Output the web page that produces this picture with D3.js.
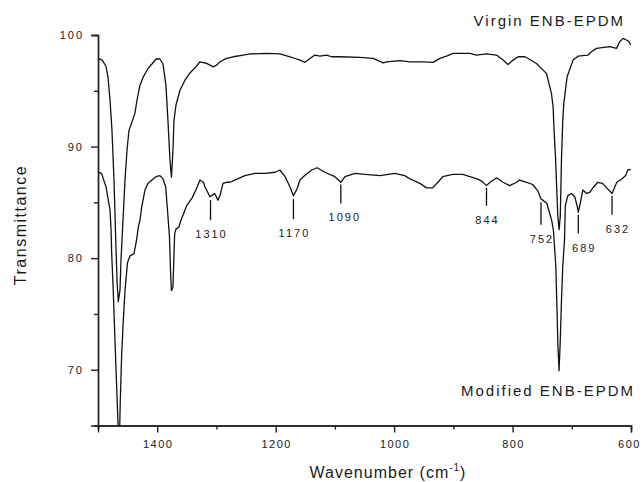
<!DOCTYPE html>
<html>
<head>
<meta charset="utf-8">
<script src="https://cdn.jsdelivr.net/npm/d3@7/dist/d3.min.js"></script>
<style>
  body { margin: 0; background: #fff; }
  svg text { font-family: Arial, "Liberation Sans", sans-serif; fill: #1a1a1a; }
</style>
</head>
<body>
<div id="chart"></div>
<script>
// spectra (wavenumber in cm-1, transmittance)
const virginWn = [1500, 1493, 1486.5, 1483, 1479.7, 1476.4, 1473, 1470.5, 1467.9, 1465.7, 1462.9, 1461.2, 1457.8, 1454.4, 1451, 1447.7, 1442.6, 1437.6, 1434.2, 1429.1, 1424, 1415.6, 1408.9, 1402.1, 1395.4, 1390.3, 1385.3, 1381.9, 1378.5, 1376, 1373.4, 1371.7, 1368.4, 1361.6, 1353.2, 1344.7, 1336.3, 1327.8, 1316.5, 1305.4, 1299.7, 1294.1, 1282.8, 1271.6, 1254.8, 1243.5, 1215.3, 1192.8, 1175.9, 1159.1, 1150.6, 1142.2, 1133.7, 1125.3, 1114, 1105.6, 1091.6, 1057.8, 1035.4, 1018.5, 1012.7, 990.3, 973.4, 951, 934, 922.8, 911.5, 900.3, 872.1, 860.8, 844, 827.1, 815.9, 807.5, 799, 790.6, 779.3, 770.9, 759.6, 748.4, 742.7, 737.1, 734.3, 731.5, 729.9, 727.5, 725.3, 723.6, 721.4, 719.4, 717.4, 715.2, 713.5, 707.9, 697.8, 689.3, 672.5, 666.7, 658.3, 635.8, 624.6, 619, 613.4, 607.7, 603.3, 600.5];
const virginT = [97.9, 97.75, 97.2, 96.15, 94.15, 91.45, 87, 82.5, 78, 76.1, 77.1, 79.8, 83.4, 87, 89.7, 91.45, 92.2, 93, 94.15, 95.5, 96.2, 97, 97.4, 97.85, 97.85, 97.4, 95.5, 92.35, 88.8, 87.25, 89.7, 92.35, 93.7, 95.05, 95.95, 96.6, 97.05, 97.6, 97.45, 97.15, 97.3, 97.6, 97.9, 98.05, 98.2, 98.3, 98.35, 98.3, 98.05, 97.75, 97.55, 97.9, 98.2, 98.1, 98.2, 98.05, 98.05, 98, 97.9, 97.5, 97.6, 97.7, 97.6, 97.6, 97.55, 97.9, 98.1, 98.35, 98.35, 98.2, 98.3, 98.2, 97.75, 97.35, 97.75, 98.05, 98.05, 97.8, 97.45, 96.85, 96.55, 95.35, 94.75, 93.55, 91.45, 89.05, 86.05, 83.8, 82.55, 83.8, 88.8, 92.35, 93.85, 96.25, 97.75, 98.1, 98.2, 98.5, 98.8, 98.95, 98.8, 99.4, 99.7, 99.55, 99.4, 99.1];

const modifiedWn = [1500, 1494, 1491, 1486.5, 1482.6, 1479.7, 1478, 1476.9, 1474.7, 1472.5, 1470.1, 1467.4, 1465.5, 1463.4, 1462.4, 1460, 1457.3, 1454.4, 1450.2, 1446, 1439.2, 1435, 1431.6, 1429.1, 1426.2, 1420.7, 1415.6, 1408.9, 1402.1, 1395.4, 1390.3, 1385.7, 1383.5, 1381, 1379.3, 1377.6, 1376, 1373.4, 1371.7, 1370.5, 1368.4, 1363.3, 1359.9, 1350.3, 1341, 1334, 1327.8, 1322, 1319.4, 1311, 1308, 1303, 1297.5, 1294, 1289, 1283, 1277, 1269, 1252, 1235, 1218, 1201, 1193, 1184, 1176, 1170, 1164, 1159, 1151, 1139, 1130, 1117, 1100, 1090, 1083, 1066, 1049, 1024, 999, 982, 973, 956.5, 945, 935, 926, 918, 901, 884, 872, 860, 852, 844, 838, 827, 816, 805, 793, 788, 776, 766, 757, 752, 749, 742, 734, 731, 727, 725, 723.5, 721.5, 719.5, 717.4, 715.2, 712.3, 710.9, 706.7, 700.5, 695, 691, 689, 685, 681.4, 674.7, 669.6, 662.8, 656, 648, 641, 632, 624, 615.6, 609, 605.5, 600.5];
const modifiedT = [87.7, 87.6, 87.1, 86.4, 85.2, 84.3, 82.6, 80.4, 77.7, 74.4, 70.8, 66.9, 64.2, 64.6, 67.2, 71.4, 74.4, 77.1, 79.6, 80.2, 80.4, 81.6, 82.9, 83.4, 84.6, 86.1, 86.7, 87, 87.3, 87.4, 87.1, 86.4, 84.9, 83.1, 81.9, 78.9, 77.1, 77.4, 80.4, 82.2, 82.6, 82.8, 83.4, 84.7, 85.4, 86.2, 87, 86.8, 86.4, 85.5, 85.6, 85.8, 85.2, 85.6, 86.7, 86.8, 86.8, 87, 87.4, 87.6, 87.6, 87.7, 87.9, 87.3, 86.4, 85.6, 86.2, 87, 87.4, 87.9, 88.1, 87.7, 87.3, 86.8, 87.3, 87.6, 87.5, 87.4, 87.6, 87.4, 87.1, 86.7, 86.3, 86.3, 86.8, 87.3, 87.5, 87.5, 87.3, 87.1, 86.9, 86.5, 86.8, 87.2, 86.8, 86.5, 86.8, 87, 86.8, 86.6, 86, 85.3, 85.2, 84.9, 83.4, 82.5, 79.3, 75.5, 72.3, 69.9, 72.5, 76.2, 79.3, 81.6, 84.7, 85.6, 85.8, 85.5, 84.7, 84.1, 85.1, 86.1, 85.8, 85.9, 86.4, 86.8, 86.7, 86.3, 85.8, 86.8, 87.1, 87.4, 87.9, 87.95];

// peak markers on the modified spectrum
const peakWn = [1310, 1170, 1090, 844, 752, 689, 632];
const peakLabels = ["1310", "1170", "1090", "844", "752", "689", "632"];
const peakTop = [85.2, 85.3, 86.6, 86.3, 85.0, 83.9, 85.6];
const peakEnd = [83.4, 83.5, 84.9, 84.7, 83.0, 82.2, 83.9];

const xTicks = [1400, 1200, 1000, 800, 600];
const xMinor = [1500, 1300, 1100, 900, 700];
const yTicks = [100, 90, 80, 70];
const yMinor = [95, 85, 75, 65];

const seriesNames = ["Virgin ENB-EPDM", "Modified ENB-EPDM"];

// dimensioner
const margin = { top: 35, right: 11, bottom: 56.5, left: 98 },
  width = 642 - margin.left - margin.right,
  height = 482 - margin.top - margin.bottom;

const svg = d3.select("#chart")
  .append("svg")
  .attr("width", 642)
  .attr("height", 482);

const g = svg.append("g")
  .attr("transform", "translate(" + margin.left + "," + margin.top + ")");

const x = d3.scaleLinear().domain([1500, 600]).range([0, width]);
const y = d3.scaleLinear().domain([65, 100]).range([height, 0]);

// akser
function styleAxis(sel) {
  sel.select(".domain").attr("stroke", "#222").attr("stroke-width", 1.4);
  sel.selectAll(".tick line").attr("stroke", "#222").attr("stroke-width", 1.4);
  sel.selectAll("text")
    .attr("font-size", 11)
    .attr("letter-spacing", "2px")
    .attr("fill", "#1a1a1a")
    .attr("font-family", "Arial, 'Liberation Sans', sans-serif");
}

g.append("g")
  .call(d3.axisLeft(y).tickValues(yMinor).tickSize(4).tickFormat(""))
  .call(styleAxis);
g.append("g")
  .call(d3.axisLeft(y).tickValues(yTicks).tickSize(7).tickPadding(7))
  .call(styleAxis);

g.append("g")
  .attr("transform", "translate(0," + height + ")")
  .call(d3.axisBottom(x).tickValues(xMinor).tickSize(4).tickFormat(""))
  .call(styleAxis);
g.append("g")
  .attr("transform", "translate(0," + height + ")")
  .call(d3.axisBottom(x).tickValues(xTicks).tickSize(7).tickPadding(8).tickFormat(d3.format("d")))
  .call(styleAxis)
  .selectAll("text")
  .attr("letter-spacing", "1.5px")
  .attr("dx", d => (d === 600 ? "-2px" : "0.5px"));

// kurver
svg.append("defs").append("clipPath")
  .attr("id", "plotclip")
  .append("rect")
  .attr("x", 0).attr("y", -5)
  .attr("width", width).attr("height", height + 5);

const line = d3.line()
  .x(d => x(d[0]))
  .y(d => y(d[1]));

const virgin = virginWn.map((w, i) => [w, virginT[i]]);
const modified = modifiedWn.map((w, i) => [w, modifiedT[i]]);

g.append("g")
  .attr("clip-path", "url(#plotclip)")
  .selectAll("path.spec")
  .data([virgin, modified])
  .enter()
  .append("path")
  .attr("class", "spec")
  .attr("d", line)
  .attr("fill", "none")
  .attr("stroke", "#111")
  .attr("stroke-width", 1.3)
  .attr("stroke-linejoin", "round");

// peak markeringer
const labelNudge = { "689": 5, "632": 5, "1090": 3 };

const peaks = g.selectAll("g.peak")
  .data(peakWn)
  .enter()
  .append("g")
  .attr("class", "peak");

peaks.append("line")
  .attr("x1", d => x(d))
  .attr("x2", d => x(d))
  .attr("y1", (d, i) => y(peakTop[i]))
  .attr("y2", (d, i) => y(peakEnd[i]))
  .attr("stroke", "#111")
  .attr("stroke-width", 1.3);

peaks.append("text")
  .attr("x", (d, i) => x(d) + 1 + (labelNudge[peakLabels[i]] || 0))
  .attr("y", (d, i) => y(peakEnd[i]) + 18)
  .attr("text-anchor", "middle")
  .attr("font-size", 11)
  .attr("letter-spacing", "2px")
  .text((d, i) => peakLabels[i]);

// serie-navne
svg.append("text")
  .attr("x", 625)
  .attr("y", 26)
  .attr("text-anchor", "end")
  .attr("font-size", 15)
  .attr("letter-spacing", "2px")
  .text(seriesNames[0]);

svg.append("text")
  .attr("x", 635)
  .attr("y", 396)
  .attr("text-anchor", "end")
  .attr("font-size", 15)
  .attr("letter-spacing", "2px")
  .text(seriesNames[1]);

// aksetitler
svg.append("text")
  .attr("transform", "translate(26,225) rotate(-90)")
  .attr("text-anchor", "middle")
  .attr("font-size", 16)
  .attr("letter-spacing", "1.5px")
  .text("Transmittance");

const xt = svg.append("text")
  .attr("x", 388)
  .attr("y", 478)
  .attr("text-anchor", "middle")
  .attr("font-size", 16)
  .attr("letter-spacing", "1px");
xt.append("tspan").text("Wavenumber (cm");
xt.append("tspan").attr("font-size", 10).attr("dy", -7).text("-1");
xt.append("tspan").attr("dy", 7).text(")");
</script>
</body>
</html>
